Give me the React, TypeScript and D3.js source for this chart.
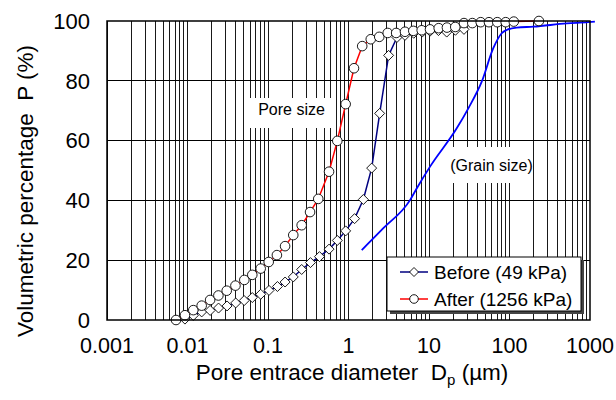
import React from "react";
import * as d3 from "d3";

// ---- data ----
const afterD = [0.0072, 0.0093, 0.0118, 0.015, 0.0191, 0.0242, 0.0307, 0.0394, 0.0508, 0.0638, 0.0811, 0.102, 0.129, 0.163, 0.206, 0.262, 0.333, 0.421, 0.573, 0.726, 0.922, 1.17, 1.48, 1.89, 2.41, 3.07, 3.91, 5.03, 6.38, 8.11, 10.3, 13.2, 16.7, 21.2, 27.2, 34.5, 43.9, 55.6, 70.5, 89.7, 113, 232];
const afterP = [0, 1.6, 3.3, 4.8, 6.7, 8.2, 9.8, 11.5, 13.4, 15.1, 17.2, 19.4, 21.7, 24.7, 28.4, 31.7, 36.1, 40.5, 49.6, 59.9, 72.2, 84.2, 91.6, 93.9, 94.7, 96.0, 96.0, 96.4, 96.7, 96.9, 97.2, 97.6, 97.8, 98.0, 99.3, 99.3, 99.6, 99.6, 99.6, 99.6, 99.8, 100];

const beforeD = [0.0093, 0.0118, 0.015, 0.0191, 0.0243, 0.031, 0.0397, 0.0506, 0.0638, 0.0811, 0.103, 0.131, 0.163, 0.206, 0.262, 0.337, 0.436, 0.573, 0.726, 0.922, 1.19, 1.53, 1.94, 2.44, 3.15, 4.0, 5.03, 6.46, 8.24, 10.3, 13.1, 16.6, 21.3, 27.2];
const beforeP = [0.3, 1.5, 2.7, 3.2, 4.0, 4.7, 5.7, 6.5, 7.5, 8.6, 9.9, 11.2, 12.7, 14.4, 16.9, 19.2, 21.2, 23.7, 26.6, 29.8, 33.9, 40.3, 50.8, 69.1, 88.5, 94.5, 95.2, 95.9, 96.3, 96.6, 96.8, 96.3, 96.9, 97.2];

const grainD = [1.46, 2.71, 5.81, 7.03, 10.3, 22.1, 30.8, 45.2, 62.9, 80.0, 92.3, 123, 198, 514, 953, 1150];
const grainP = [23.4, 30.7, 40.1, 44.0, 51.3, 64.1, 70.8, 79.7, 90.9, 95.9, 97.0, 97.8, 98.1, 99.2, 99.6, 99.8];

const xTicks = [0.001, 0.01, 0.1, 1, 10, 100, 1000];
const xTickLabels = ["0.001", "0.01", "0.1", "1", "10", "100", "1000"];
const yTicks = [0, 20, 40, 60, 80, 100];

const seriesNames = ["Before (49 kPa)", "After (1256 kPa)"];

const FONT = "'Liberation Sans', Arial, sans-serif";

export default function App() {
  const W = 616, H = 400;
  const L = 107, R = 590, T = 21, B = 320;
  const x = d3.scaleLog().domain([0.001, 1000]).range([L, R]);
  const y = d3.scaleLinear().domain([0, 100]).range([B, T]);

  const minorTicks: number[] = [];
  for (let e = -3; e < 3; e++) {
    for (let k = 1; k <= 9; k++) {
      minorTicks.push(k * Math.pow(10, e));
    }
  }

  const line = d3.line<[number, number]>().x(d => x(d[0])).y(d => y(d[1]));
  const curve = d3.line<[number, number]>().x(d => x(d[0])).y(d => y(d[1])).curve(d3.curveMonotoneX);

  const after: [number, number][] = afterD.map((d, i) => [d, afterP[i]]);
  const before: [number, number][] = beforeD.map((d, i) => [d, beforeP[i]]);
  const grain: [number, number][] = grainD.map((d, i) => [d, grainP[i]]);

  const diamond = (cx: number, cy: number, r = 5) =>
    `M${cx},${cy - r}L${cx + r},${cy}L${cx},${cy + r}L${cx - r},${cy}Z`;
  const CR = 4.8;

  return (
    <svg width={W} height={H} style={{ position: "absolute", left: 0, top: 0, background: "#fff" }} fontFamily={FONT}>
      <rect x={0} y={0} width={W} height={H} fill="#fff" />
      {/* grid */}
      <g>
        {minorTicks.map((v, i) => (
          <line key={"v" + i} x1={x(v)} x2={x(v)} y1={T} y2={B} stroke="#000" strokeWidth={0.9} shapeRendering="crispEdges" />
        ))}
        {yTicks.slice(1, -1).map((v, i) => (
          <line key={"h" + i} x1={L} x2={R} y1={y(v)} y2={y(v)} stroke="#000" strokeWidth={1} shapeRendering="crispEdges" />
        ))}
      </g>
      {/* text boxes */}
      <rect x={250} y={98} width={83} height={30} fill="#fff" />
      <text x={291.5} y={114.5} fontSize={16} textAnchor="middle">Pore size</text>
      <rect x={450} y={147} width={83} height={36} fill="#fff" />
      <text x={491.5} y={171} fontSize={16} textAnchor="middle">(Grain size)</text>

      {/* series */}
      <path d={curve(grain) || ""} fill="none" stroke="#0000ff" strokeWidth={1.8} />
      <path d={line(before) || ""} fill="none" stroke="#000080" strokeWidth={1.5} />
      {before.map((d, i) => (
        <path key={"b" + i} d={diamond(x(d[0]), y(d[1]))} fill="#fff" stroke="#000" strokeWidth={0.9} />
      ))}
      <path d={line(after) || ""} fill="none" stroke="#ff0000" strokeWidth={1.5} />
      {after.map((d, i) => (
        <circle key={"a" + i} cx={x(d[0])} cy={y(d[1])} r={CR} fill="#fff" stroke="#000" strokeWidth={0.9} />
      ))}

      {/* frame */}
      <rect x={L} y={T} width={R - L} height={B - T} fill="none" stroke="#000" strokeWidth={1.5} />

      {/* axes labels */}
      {yTicks.map((v, i) => (
        <text key={"yt" + i} x={90} y={y(v) + 7.8} fontSize={22} textAnchor="end">{v}</text>
      ))}
      {xTicks.map((v, i) => (
        <text key={"xt" + i} x={x(v)} y={353} fontSize={21.5} textAnchor="middle">{xTickLabels[i]}</text>
      ))}
      <text x={352} y={380} fontSize={22.5} textAnchor="middle">
        Pore entrace diameter{"\u00a0\u00a0"}D<tspan fontSize={15} dy={5}>p</tspan><tspan dy={-5}>{" (\u00b5m)"}</tspan>
      </text>
      <text transform="translate(33,191) rotate(-90)" fontSize={22.5} textAnchor="middle">
        {"Volumetric percentage\u00a0\u00a0P (%)"}
      </text>

      {/* legend */}
      <rect x={390} y={260} width={194} height={54} fill="#444" />
      <rect x={387} y={257} width={194} height={54} fill="#fff" stroke="#000" strokeWidth={1} />
      <line x1={400} x2={428} y1={272} y2={272} stroke="#000080" strokeWidth={1.5} />
      <path d={diamond(414, 272, 4.5)} fill="#fff" stroke="#000" strokeWidth={0.9} />
      <text x={434} y={279} fontSize={19}>{seriesNames[0]}</text>
      <line x1={400} x2={428} y1={299} y2={299} stroke="#ff0000" strokeWidth={1.5} />
      <circle cx={414} cy={299} r={4.3} fill="#fff" stroke="#000" strokeWidth={0.9} />
      <text x={434} y={306} fontSize={19}>{seriesNames[1]}</text>
    </svg>
  );
}
